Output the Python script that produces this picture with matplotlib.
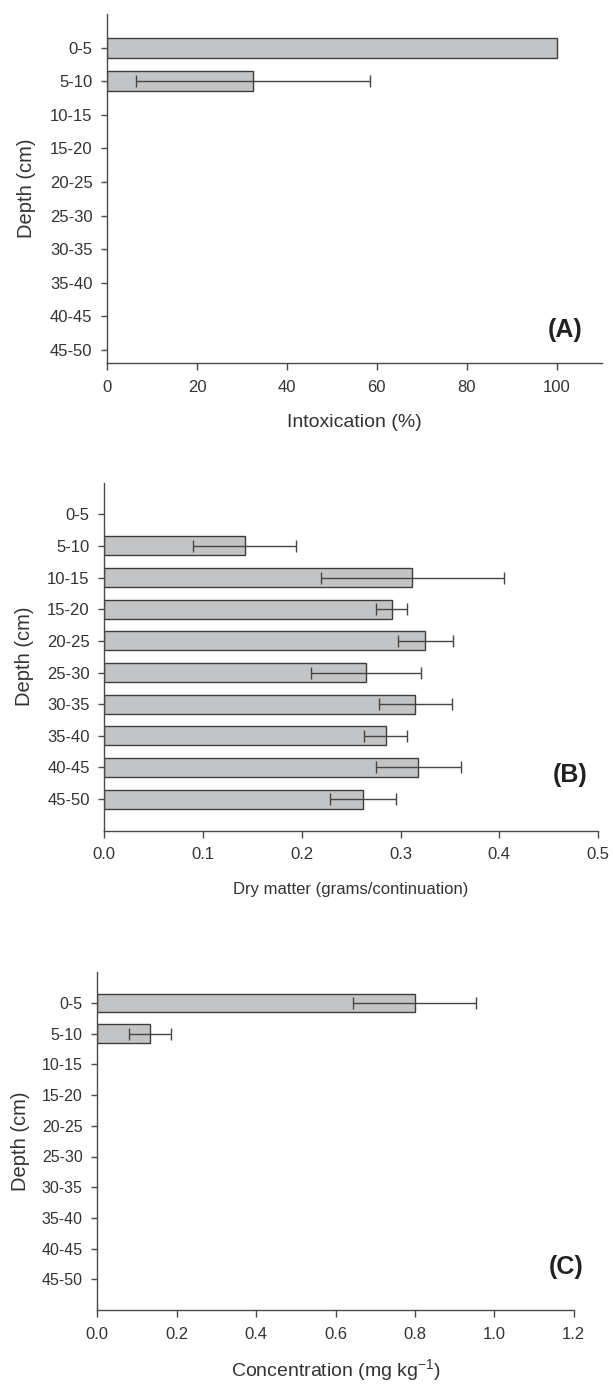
import numpy as np
import matplotlib
matplotlib.use("Agg")
import matplotlib.pyplot as plt

plt.rcParams['font.family'] = ['Liberation Sans', 'DejaVu Sans']
plt.rcParams['mathtext.fontset'] = 'custom'
plt.rcParams['mathtext.rm'] = 'Liberation Sans'
plt.rcParams['mathtext.it'] = 'Liberation Sans:italic'
plt.rcParams['mathtext.bf'] = 'Liberation Sans:bold'

# depth classes
depths = ['0-5', '5-10', '10-15', '15-20', '20-25', '25-30', '30-35', '35-40', '40-45', '45-50']

# (A) intoxication (%)
intox_mean = [100, 32.5, None, None, None, None, None, None, None, None]
intox_err = [0, 26, None, None, None, None, None, None, None, None]

# (B) dry matter (grams/continuation)
dry_mean = [None, 0.142, 0.312, 0.291, 0.325, 0.265, 0.315, 0.285, 0.318, 0.262]
dry_err = [None, 0.052, 0.093, 0.016, 0.028, 0.056, 0.037, 0.022, 0.043, 0.033]

# (C) concentration (mg kg-1)
conc_mean = [0.80, 0.133, None, None, None, None, None, None, None, None]
conc_err = [0.155, 0.052, None, None, None, None, None, None, None, None]

txt = '#333333'
bar_fill = '#c3c4c6'
bar_edge = '#3d3d3d'
err_col = '#454545'

W, H = 613, 1384
fig = plt.figure(figsize=(W / 100, H / 100), dpi=100)


def px_axes(left, right, top, bottom):
    return fig.add_axes([left / W, 1 - bottom / H, (right - left) / W, (bottom - top) / H])


def panel(ax, mean, err, xlim, xticks, xticklabels, ylim_bottom, xlabel, xlabel_size, tag, tag_xy,
          tick_size=12, ylabelpad=15, xlabelpad=14):
    y = np.arange(len(depths))
    m = np.array([np.nan if v is None else v for v in mean], dtype=float)
    e = np.array([np.nan if v is None else v for v in err], dtype=float)
    ok = ~np.isnan(m)
    ax.barh(y[ok], m[ok], height=0.6, color=bar_fill, edgecolor=bar_edge, linewidth=1.0, zorder=2)
    has_err = ok & (np.nan_to_num(e) > 0)
    ax.errorbar(m[has_err], y[has_err], xerr=e[has_err], fmt='none', ecolor=err_col,
                elinewidth=1.0, capsize=4, capthick=1.0, zorder=3)

    ax.set_ylim(ylim_bottom, -1)
    ax.set_xlim(*xlim)
    ax.set_yticks(y)
    ax.set_yticklabels(depths)
    ax.set_xticks(xticks)
    ax.set_xticklabels(xticklabels)

    for s in ['top', 'right']:
        ax.spines[s].set_visible(False)
    for s in ['left', 'bottom']:
        ax.spines[s].set_color('#4a4a4a')
        ax.spines[s].set_linewidth(1.0)
    ax.tick_params(axis='y', length=4.5, width=1.0, color='#4a4a4a', pad=6,
                   labelsize=tick_size, labelcolor=txt)
    ax.tick_params(axis='x', length=5, width=1.0, color='#4a4a4a', pad=7,
                   labelsize=12, labelcolor=txt)
    ax.set_ylabel('Depth (cm)', fontsize=14.5, color=txt, labelpad=ylabelpad)
    ax.set_xlabel(xlabel, fontsize=xlabel_size, color=txt, labelpad=xlabelpad)
    ax.text(tag_xy[0], tag_xy[1], tag, transform=ax.transAxes, ha='center', va='center',
            fontsize=18, fontweight='bold', color='#222222')


axA = px_axes(107, 601.7, 14, 363.3)
panel(axA, intox_mean, intox_err, (0, 110), [0, 20, 40, 60, 80, 100],
      ['0', '20', '40', '60', '80', '100'], 9.4, 'Intoxication (%)', 14, '(A)', (0.926, 0.095),
      ylabelpad=10)

axB = px_axes(104.3, 598, 482.7, 830.7)
panel(axB, dry_mean, dry_err, (0, 0.5), [0, 0.1, 0.2, 0.3, 0.4, 0.5],
      ['0.0', '0.1', '0.2', '0.3', '0.4', '0.5'], 10, 'Dry matter (grams/continuation)', 12,
      '(B)', (0.943, 0.16), ylabelpad=9.5)

axC = px_axes(97.3, 573.7, 972.3, 1310)
panel(axC, conc_mean, conc_err, (0, 1.2), [0, 0.2, 0.4, 0.6, 0.8, 1.0, 1.2],
      ['0.0', '0.2', '0.4', '0.6', '0.8', '1.0', '1.2'], 10, r'Concentration (mg kg$^{-1}$)', 14,
      '(C)', (0.984, 0.128), tick_size=11.5, ylabelpad=8.5, xlabelpad=11)

fig.savefig('out.png', dpi=100)
